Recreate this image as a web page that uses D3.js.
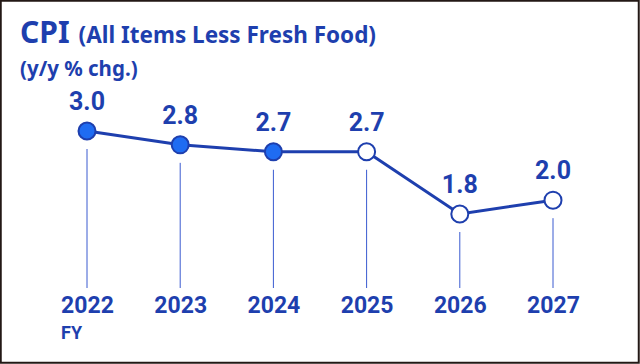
<!DOCTYPE html>
<html>
<head>
<meta charset="utf-8">
<script src="https://cdn.jsdelivr.net/npm/d3@7"></script>
<style>
  body { margin: 0; background: #fff; }
  text { font-family: "Noto Sans", sans-serif; }
  .num { font-family: Roboto, sans-serif; font-weight: 700; }
</style>
</head>
<body>
<div id="chart"></div>
<script>
var width = 640;
var height = 364;

var years = ["2022", "2023", "2024", "2025", "2026", "2027"];
var values = [3.0, 2.8, 2.7, 2.7, 1.8, 2.0];
var forecast = [false, false, false, true, true, true];

var blue = "#1e3fae";
var dotFill = "#1f6cf2";

var svg = d3.select("#chart")
    .append("svg")
    .attr("width", width)
    .attr("height", height);

// frame
svg.append("rect")
    .attr("x", 0.75).attr("y", 0.75)
    .attr("width", width - 2).attr("height", height - 2)
    .attr("fill", "#fff")
    .attr("stroke", "#231815")
    .attr("stroke-width", 2);

// titles
var title = svg.append("text")
    .attr("x", 20).attr("y", 43)
    .attr("fill", blue)
    .attr("font-weight", 700);
title.append("tspan").attr("font-size", 30).text("CPI");
title.append("tspan").attr("font-size", 22.5).attr("dx", 9).text("(All Items Less Fresh Food)");

svg.append("text")
    .attr("x", 20).attr("y", 76)
    .attr("fill", blue)
    .attr("font-weight", 700)
    .attr("font-size", 20.5)
    .text("(y/y % chg.)");

var x = d3.scalePoint().domain(years).range([87, 553]);
var y = d3.scaleLinear().domain([1.8, 3.0]).range([214, 131]);

var data = years.map(function(d, i){
    return {year: d, value: values[i], forecast: forecast[i]};
});

// drop lines
svg.selectAll(".drop")
    .data(data)
    .enter().append("line")
    .attr("class", "drop")
    .attr("x1", function(d){ return x(d.year); })
    .attr("x2", function(d){ return x(d.year); })
    .attr("y1", function(d){ return y(d.value) + 18; })
    .attr("y2", 288)
    .attr("stroke", "#3a5bd0")
    .attr("stroke-width", 1);

// main line
var line = d3.line()
    .x(function(d){ return x(d.year); })
    .y(function(d){ return y(d.value); });

svg.append("path")
    .datum(data)
    .attr("d", line)
    .attr("fill", "none")
    .attr("stroke", blue)
    .attr("stroke-width", 3);

svg.selectAll(".dot")
    .data(data)
    .enter().append("circle")
    .attr("class", "dot")
    .attr("cx", function(d){ return x(d.year); })
    .attr("cy", function(d){ return y(d.value); })
    .attr("r", 8.5)
    .attr("fill", function(d){ return d.forecast ? "#fff" : dotFill; })
    .attr("stroke", blue)
    .attr("stroke-width", 2);

// value labels
svg.selectAll(".val")
    .data(data)
    .enter().append("text")
    .attr("class", "num val")
    .attr("x", function(d){ return x(d.year); })
    .attr("y", function(d){ return y(d.value) - 21; })
    .attr("text-anchor", "middle")
    .attr("font-size", 25)
    .attr("fill", blue)
    .text(function(d){ return d3.format(".1f")(d.value); });

// x labels
var xAxis = d3.axisBottom(x).tickSize(0).tickPadding(0);
var gx = svg.append("g")
    .attr("transform", "translate(0,297)")
    .call(xAxis);
gx.select(".domain").remove();
gx.selectAll("text")
    .attr("class", "num")
    .attr("font-size", 23)
    .attr("fill", blue)
    .attr("dy", "0.71em");

svg.append("text")
    .attr("class", "num")
    .attr("x", 61).attr("y", 339)
    .attr("font-size", 18)
    .attr("fill", blue)
    .text("FY");
</script>
</body>
</html>
